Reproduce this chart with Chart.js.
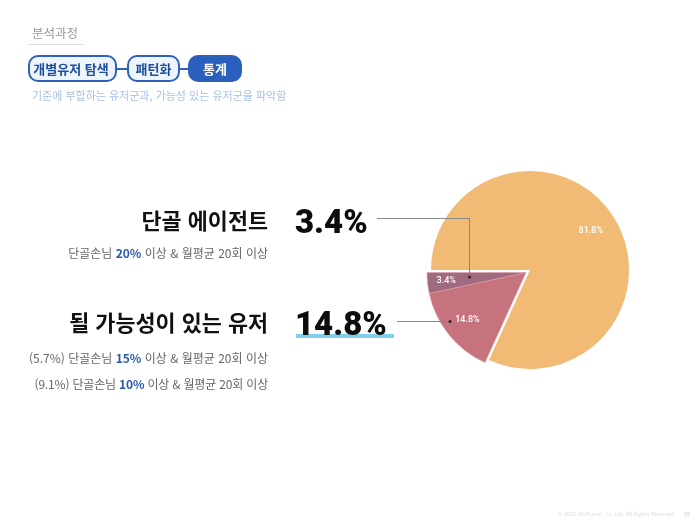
<!DOCTYPE html>
<html lang="ko"><head><meta charset="utf-8">
<script src="https://cdn.jsdelivr.net/npm/chart.js@4/dist/chart.umd.min.js"></script>
<style>
html,body{margin:0;padding:0;background:#fff;width:700px;height:525px;overflow:hidden}
body{position:relative;font-family:"Noto Sans CJK KR","Noto Sans",sans-serif}
canvas{position:absolute;left:0;top:0}
.t{position:absolute;white-space:nowrap;line-height:1}
.r{text-align:right;right:432px}
.pill{position:absolute;box-sizing:border-box;height:27px;top:55px;border:2px solid #2e62b8;border-radius:10px;background:#eef4fc;color:#1d4f9e;font-weight:700;font-size:13px;line-height:23px;text-align:center}
.conn{position:absolute;top:68px;height:2px;background:#2e62b8}
.h{font-weight:700;font-size:21.8px;color:#111}
.s{font-size:12px;color:#666}
.s b{color:#2a58a8;font-weight:700}
.n{font-family:Roboto,sans-serif;font-weight:900;font-size:34px;color:#0c0c0c;transform-origin:0 50%;transform:scaleX(0.97)}
</style></head><body>
<canvas id="c" width="700" height="525"></canvas>
<div class="t" style="left:32px;top:27px;font-size:12.5px;color:#999">분석과정</div>
<div style="position:absolute;left:28px;top:44px;width:56px;height:1px;background:#ddd"></div>
<div class="conn" style="left:116px;width:12px"></div>
<div class="conn" style="left:179px;width:10px"></div>
<div class="pill" style="left:28px;width:89px;padding-right:3px">개별유저 탐색</div>
<div class="pill" style="left:127px;width:53px">패턴화</div>
<div class="pill" style="left:188px;width:54px;background:#2a5fbd;color:#fff">통계</div>
<div class="t" style="left:32px;top:90px;font-size:11px;color:#a6c0e6">기준에 부합하는 유저군과, 가능성 있는 유저군을 파악함</div>
<div class="t r h" style="top:209px">단골 에이전트</div>
<div class="t r s" style="top:247px">단골손님 <b>20%</b> 이상 &amp; 월평균 20회 이상</div>
<div class="t r h" style="top:311px">될 가능성이 있는 유저</div>
<div class="t r s" style="top:352px">(5.7%) 단골손님 <b>15%</b> 이상 &amp; 월평균 20회 이상</div>
<div class="t r s" style="top:378px;letter-spacing:-0.18px">(9.1%) 단골손님 <b>10%</b> 이상 &amp; 월평균 20회 이상</div>
<div style="position:absolute;left:296px;top:334px;width:98px;height:4px;background:#7fd0ee"></div>
<div class="t n" style="left:295px;top:204px">3.4%</div>
<div class="t n" style="left:295px;top:306px">14.8%</div>
<div class="t" style="left:558px;top:512px;font-size:5.4px;color:#ddd">© 2002-2019 psm, Co, Ltd. All Rights Reserved</div>
<div class="t" style="left:684px;top:512px;font-size:5.4px;color:#ccc">59</div>
<script>
const categories = ['단골 유저 외', '될 가능성이 있는 유저', '단골 에이전트'];
const values = [81.8, 14.8, 3.4];
const sliceColors = ['#f2bb75', '#c7737d', '#a06a80'];
const labelRadius = [0.73, 0.76, 0.81];
const explode = { dx: -4, dy: 2.5, slices: [1, 2] };

const explodePlugin = {
  id: 'explode',
  afterDatasetsUpdate(chart) {
    const arcs = chart.getDatasetMeta(0).data;
    explode.slices.forEach(i => { arcs[i].x += explode.dx; arcs[i].y += explode.dy; });
  }
};
const annotatePlugin = {
  id: 'annotate',
  afterDatasetsDraw(chart) {
    const ctx = chart.ctx;
    const arcs = chart.getDatasetMeta(0).data;
    ctx.save();
    ctx.strokeStyle = '#888'; ctx.lineWidth = 1;
    ctx.beginPath(); ctx.moveTo(377, 218.5); ctx.lineTo(469.5, 218.5); ctx.lineTo(469.5, 277); ctx.stroke();
    ctx.beginPath(); ctx.moveTo(397, 321.5); ctx.lineTo(450, 321.5); ctx.stroke();
    ctx.fillStyle = '#222';
    [[469.5, 277], [450, 321.5]].forEach(p => { ctx.beginPath(); ctx.arc(p[0], p[1], 1.5, 0, 7); ctx.fill(); });
    ctx.fillStyle = '#fff'; ctx.font = '500 9px Roboto, sans-serif';
    ctx.textAlign = 'center'; ctx.textBaseline = 'middle';
    arcs.forEach((a, i) => {
      const m = (a.startAngle + a.endAngle) / 2, r = a.outerRadius * labelRadius[i];
      ctx.fillText(values[i].toFixed(1) + '%', a.x + Math.cos(m) * r, a.y + Math.sin(m) * r);
    });
    ctx.restore();
  }
};
new Chart(document.getElementById('c'), {
  type: 'pie',
  data: { labels: categories, datasets: [{ data: values, backgroundColor: sliceColors,
    borderColor: ['#f2bb75', '#dba0a8', '#dba0a8'], borderWidth: [0, 0.6, 0.6] }] },
  options: {
    responsive: false, animation: false, rotation: -90, radius: 99,
    layout: { padding: { left: 360, top: 15, right: 0, bottom: 0 } },
    plugins: { legend: { display: false }, tooltip: { enabled: false } }
  },
  plugins: [explodePlugin, annotatePlugin]
});
</script>
</body></html>
